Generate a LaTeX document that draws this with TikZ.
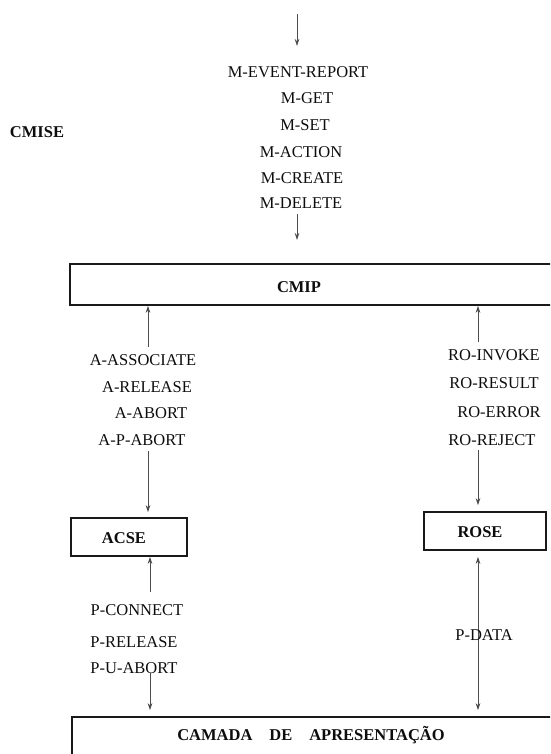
\documentclass[tikz,border=0pt]{standalone}
\usepackage{fontspec}
\setmainfont{Liberation Serif}
\usetikzlibrary{arrows.meta}
\begin{document}
\begin{tikzpicture}[x=1pt,y=-1pt,
  lbl/.style={font=\fontsize{16.5}{19}\selectfont, text=black!95, inner sep=0pt, anchor=center},
  title/.style={lbl, font=\fontsize{16.5}{19}\selectfont\bfseries},
  block/.style={draw=black!90, line width=1.6pt, inner sep=0pt},
  tip/.style={Stealth[length=7pt,width=4.5pt]},
  link/.style={draw=black!70, line width=0.75pt, -{Stealth[length=7pt,width=4.5pt]}},
  duplex/.style={draw=black!70, line width=0.75pt, {Stealth[length=7pt,width=4.5pt]}-{Stealth[length=7pt,width=4.5pt]}}]
\useasboundingbox (0,0) rectangle (550,754);
\clip (0,0) rectangle (550,754);

% service primitives of CMISE
\node[title] (cmise) at (37,132) {CMISE};
\node[lbl] (mev) at (298,72) {M-EVENT-REPORT};
\node[lbl] (mget) at (307,98) {M-GET};
\node[lbl] (mset) at (305,125) {M-SET};
\node[lbl] (mact) at (301,152) {M-ACTION};
\node[lbl] (mcre) at (302,178) {M-CREATE};
\node[lbl] (mdel) at (301,203) {M-DELETE};

% blocks
\node[block, minimum width=510pt, minimum height=41pt] (cmip) at (325,284.5) {};
\node[title] (cmiptxt) at (299,287) {CMIP};
\node[block, minimum width=116pt, minimum height=38pt] (acse) at (129,537) {};
\node[title] (acsetxt) at (124,538) {ACSE};
\node[block, minimum width=122pt, minimum height=38pt] (rose) at (485,531) {};
\node[title] (rosetxt) at (480,532) {ROSE};
\node[block, minimum width=508pt, minimum height=73pt] (pres) at (326,753.5) {};
\node[title] (prestxt) at (311,735) {CAMADA\hspace{17pt}DE\hspace{17pt}APRESENTAÇÃO};

% ACSE primitives
\node[lbl] (aass) at (143,360) {A-ASSOCIATE};
\node[lbl] (arel) at (147,387) {A-RELEASE};
\node[lbl] (aabo) at (151,413) {A-ABORT};
\node[lbl] (apab) at (142,440) {A-P-ABORT};

% ROSE primitives
\node[lbl] (roinv) at (494,355) {RO-INVOKE};
\node[lbl] (rores) at (494,383) {RO-RESULT};
\node[lbl] (roerr) at (499,412) {RO-ERROR};
\node[lbl] (rorej) at (492,440) {RO-REJECT};

% presentation primitives
\node[lbl] (pcon) at (137,610) {P-CONNECT};
\node[lbl] (prel) at (134,642) {P-RELEASE};
\node[lbl] (puab) at (134,668) {P-U-ABORT};

% free ends of the connectors
\coordinate (src) at (297,14);
\coordinate (srcend) at (297,46);
\coordinate (mout) at (297,214);
\coordinate (mend) at (297,240);
\coordinate (aup) at (148,347);
\coordinate (adown) at (148,451);
\coordinate (pup) at (150,592);
\coordinate (pdown) at (150,673);
\coordinate (roup) at (478,342);
\coordinate (rodown) at (478,450);

% connectors
\draw[link] (src) -- (srcend);
\draw[link] (mout) -- (mend);
\draw[link] (aup) -- (aup |- cmip.south);
\draw[link, shorten >=5pt] (adown) -- (adown |- acse.north);
\draw[link] (pup) -- (pup |- acse.south);
\draw[link, shorten >=6pt] (pdown) -- (pdown |- pres.north);
\draw[link] (roup) -- (roup |- cmip.south);
\draw[link, shorten >=6pt] (rodown) -- (rodown |- rose.north);
\draw[duplex, shorten <=6pt, shorten >=6pt] (rose.south -| roup) -- (roup |- pres.north);
\node[lbl] (pdata) at (484,635) {P-DATA};
\end{tikzpicture}
\end{document}
